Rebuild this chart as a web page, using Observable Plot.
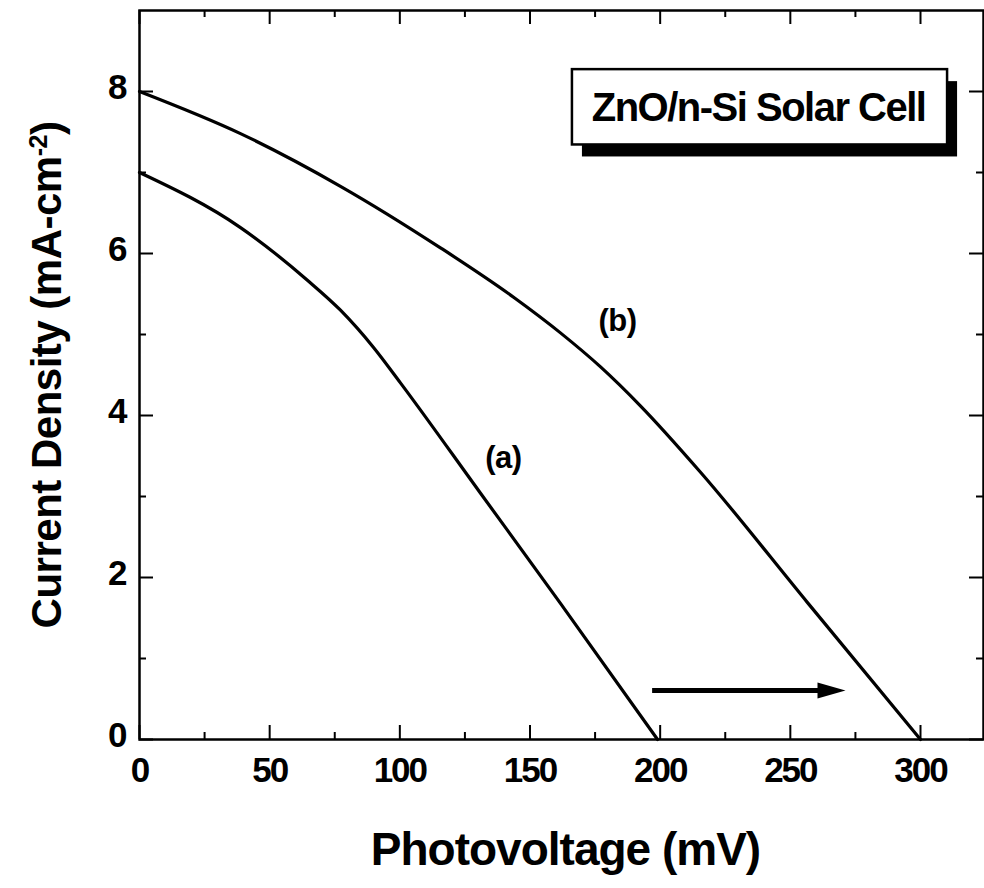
<!DOCTYPE html>
<html>
<head>
<meta charset="utf-8">
<script src="https://cdn.jsdelivr.net/npm/d3@7"></script>
<script src="https://cdn.jsdelivr.net/npm/@observablehq/plot@0.6"></script>
<style>
  body { margin: 0; background: #fff; }
  #chart svg { font-family: "Liberation Sans", Arial, sans-serif; }
</style>
</head>
<body>
<div id="chart"></div>
<script>
// Curve (a): photovoltage (mV) and current density (mA/cm^2)
const voltageA = [0, 38.8, 64.5, 77.2, 89.9, 100.3, 131.0, 161.7, 199];
const currentA = [7.0, 6.32, 5.67, 5.30, 4.84, 4.40, 3.04, 1.68, 0];
// Curve (b)
const voltageB = [0, 38.8, 77.2, 115.6, 143.7, 161.7, 177.1, 192.4, 215.5, 256.6, 300];
const currentB = [8.0, 7.48, 6.83, 6.07, 5.46, 5.02, 4.60, 4.12, 3.30, 1.69, 0];

const xTicks = [0, 50, 100, 150, 200, 250, 300];
const xMinorTicks = [25, 75, 125, 175, 225, 275];
const yTicks = [0, 2, 4, 6, 8];
const yMinorTicks = [1, 3, 5, 7];

const xTitle = "Photovoltage (mV)";
const yTitleMain = "Current Density (mA-cm";
const yTitleSup = "-2";
const yTitle = yTitleMain + yTitleSup + ")";
const boxLabel = "ZnO/n-Si Solar Cell";

// annotations (data space)
const curveLabels = [
  {text: "(a)", x: 139.8, y: 3.47},
  {text: "(b)", x: 183.6, y: 5.17}
];
const boxExtent = [{x1: 166.3, x2: 310.4, y1: 7.34, y2: 8.27, cx: 237.8, cy: 7.79}];
const arrowSpan = [{x1: 197.1, x2: 271.2, y: 0.606}];

const xMax = 324.2, yMax = 9;
const pxY = yMax / 729;      // data units per pixel (y)
const pxX = xMax / 844;      // data units per pixel (x)

const dataA = voltageA.map((v, i) => ({v, j: currentA[i]}));
const dataB = voltageB.map((v, i) => ({v, j: currentB[i]}));

const headSymbol = {
  draw(context) {
    context.moveTo(0, 0);
    context.lineTo(-28, -8);
    context.lineTo(-28, 8);
    context.closePath();
  }
};

const majLen = 14, minLen = 7;

const plot = Plot.plot({
  width: 984,
  height: 888,
  marginLeft: 139,
  marginRight: 1,
  marginTop: 10,
  marginBottom: 149,
  x: {domain: [0, xMax]},
  y: {domain: [0, yMax]},
  marks: [
    // inward ticks: bottom & top
    Plot.ruleX(xTicks, {x: d => d, y1: 0, y2: majLen * pxY, strokeWidth: 2}),
    Plot.ruleX(xMinorTicks, {x: d => d, y1: 0, y2: minLen * pxY, strokeWidth: 2}),
    Plot.ruleX(xTicks, {x: d => d, y1: yMax, y2: yMax - majLen * pxY, strokeWidth: 2}),
    Plot.ruleX(xMinorTicks, {x: d => d, y1: yMax, y2: yMax - minLen * pxY, strokeWidth: 2}),
    // inward ticks: left & right
    Plot.ruleY(yTicks, {y: d => d, x1: 0, x2: majLen * pxX, strokeWidth: 2}),
    Plot.ruleY(yMinorTicks, {y: d => d, x1: 0, x2: minLen * pxX, strokeWidth: 2}),
    Plot.ruleY(yTicks, {y: d => d, x1: xMax, x2: xMax - majLen * pxX, strokeWidth: 2}),
    Plot.ruleY(yMinorTicks, {y: d => d, x1: xMax, x2: xMax - minLen * pxX, strokeWidth: 2}),
    Plot.frame({stroke: "black", strokeWidth: 2.5}),
    Plot.axisX({ticks: xTicks, tickSize: 0, tickPadding: 18, fontSize: 35, fontWeight: "bold", label: null, tickFormat: d => String(d)}),
    Plot.axisY({ticks: yTicks, tickSize: 0, tickPadding: 14, fontSize: 35, fontWeight: "bold", label: null, dy: -4, tickFormat: d => String(d)}),
    // curves
    Plot.line(dataA, {x: "v", y: "j", stroke: "black", strokeWidth: 3.2, curve: "monotone-x"}),
    Plot.line(dataB, {x: "v", y: "j", stroke: "black", strokeWidth: 3.2, curve: "monotone-x"}),
    Plot.text(curveLabels, {x: "x", y: "y", text: "text", fontSize: 31, fontWeight: "bold", fill: "black"}),
    // legend box with drop shadow
    Plot.rect(boxExtent, {x1: "x1", x2: "x2", y1: "y1", y2: "y2", fill: "black", dx: 10, dy: 12}),
    Plot.rect(boxExtent, {x1: "x1", x2: "x2", y1: "y1", y2: "y2", fill: "white", stroke: "black", strokeWidth: 2.5}),
    Plot.text(boxExtent, {x: "cx", y: "cy", text: () => boxLabel, fontSize: 40, fontWeight: "bold", fill: "black"}),
    // arrow
    Plot.ruleY(arrowSpan, {y: "y", x1: "x1", x2: "x2", strokeWidth: 5, insetRight: 20, stroke: "black"}),
    Plot.dot(arrowSpan, {x: "x2", y: "y", symbol: headSymbol, fill: "black", stroke: "none", r: 5}),
    // axis titles
    Plot.text([xTitle], {frameAnchor: "bottom", dy: 111, dx: 4, text: d => d, fontSize: 46, fontWeight: "bold", lineAnchor: "middle", fill: "black"}),
    Plot.text([yTitle], {frameAnchor: "left", dx: -92, rotate: -90, text: d => d, textAnchor: "middle", fontSize: 42, fontWeight: "bold", lineAnchor: "middle", fill: "black"})
  ]
});

document.getElementById("chart").appendChild(plot);

// fine typography: letter spacing and the superscript of the y title unit
const ns = "http://www.w3.org/2000/svg";
plot.querySelectorAll("text").forEach(t => {
  const s = t.textContent;
  if (/^\d+$/.test(s)) t.style.letterSpacing = "-2px";
  else if (s === boxLabel) t.style.letterSpacing = "-1.5px";
  else if (s === xTitle) t.style.letterSpacing = "-1px";
  else if (s === "(a)" || s === "(b)") t.style.letterSpacing = "-0.5px";
  else if (s === yTitle) {
    t.style.letterSpacing = "-0.5px";
    while (t.firstChild) t.removeChild(t.firstChild);
    const a = document.createElementNS(ns, "tspan");
    a.textContent = yTitleMain;
    const sup = document.createElementNS(ns, "tspan");
    sup.textContent = yTitleSup;
    sup.setAttribute("dy", "-14");
    sup.setAttribute("font-size", "25");
    const close = document.createElementNS(ns, "tspan");
    close.textContent = ")";
    close.setAttribute("dy", "14");
    t.appendChild(a); t.appendChild(sup); t.appendChild(close);
  }
});
</script>
</body>
</html>
